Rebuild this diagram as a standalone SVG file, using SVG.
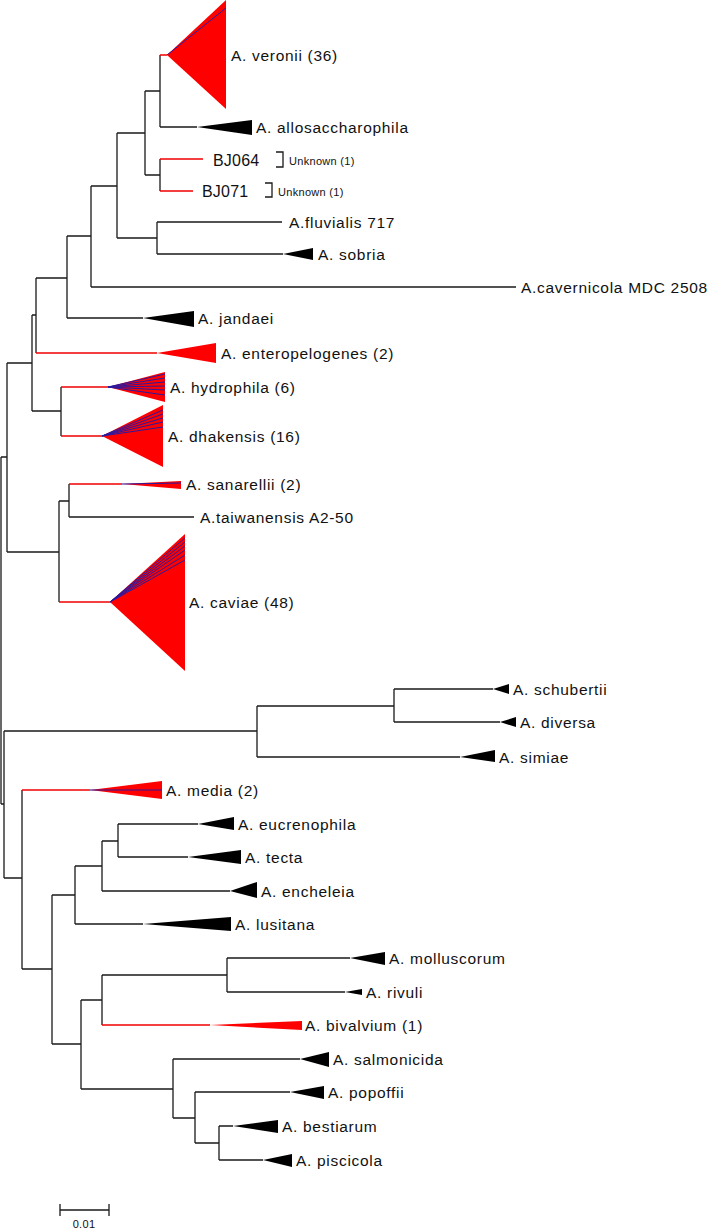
<svg xmlns="http://www.w3.org/2000/svg" width="709" height="1231" viewBox="0 0 709 1231">
<style>
.e{fill:none;stroke:#1a1a1a;stroke-width:1.3}
.r{fill:none;stroke:#f00000;stroke-width:1.3}
.b{fill:none;stroke:#2a1aa0;stroke-width:1}
.tr{fill:#ff0000;stroke:none}
.tb{fill:#000;stroke:none}
text{font-family:"Liberation Sans",Arial,sans-serif;font-size:15.5px;fill:#111;letter-spacing:0.7px}
.s{font-size:11px;letter-spacing:0.3px}
.big{font-size:16px;letter-spacing:0.2px}
</style>
<rect width="709" height="1231" fill="#fff"/>
<g id="connectors">
<path class="e" d="M1,457V804M1,457H7M7,363V552M7,363H32M32,315V411M32,315H36M36,278V353M36,278H67M67,236V318M67,236H91M91,186V287M91,186H117M117,133V238M117,133H145M145,91V175M145,91H160M160,55V127"/>
<path class="e" d="M160,127H197M145,175H160M160,159V191M117,238H157M157,222V254M157,222H282M157,254H283M91,287H516M67,318H143"/>
<path class="r" d="M160,55H167M160,159H203M160,191H193M36,353H157"/>
<path class="e" d="M32,411H61M61,387V436"/>
<path class="r" d="M61,387H108M61,436H102"/>
<path class="e" d="M7,552H59M59,501V602M59,501H69M69,484V517M69,517H194"/>
<path class="r" d="M69,484H122M59,602H110"/>
<path class="e" d="M1,804H4M4,731V878M4,731H257M257,706V757M257,706H394M394,689V722M394,689H493M394,722H500M257,757H460"/>
<path class="e" d="M4,878H22M22,790V969"/>
<path class="r" d="M22,790H90"/>
<path class="e" d="M22,969H52M52,895V1044M52,895H75M75,866V924M75,924H143M75,866H102M102,841V891M102,891H230M102,841H118M118,824V857M118,824H198M118,857H188"/>
<path class="e" d="M52,1044H81M81,1000V1089M81,1000H102M102,975V1025M102,975H227M227,958V992M227,958H350M227,992H345"/>
<path class="r" d="M102,1025H210"/>
<path class="e" d="M81,1089H173M173,1059V1118M173,1059H300M173,1118H195M195,1092V1143M195,1092H290M195,1143H219M219,1126V1160M219,1126H233M219,1160H263"/>
</g>
<g id="n-veronii">
<polygon class="tr" points="167,55 226,0 226,109"/>
<path class="b" d="M167,55L226,8"/>
<text x="231" y="61">A. veronii (36)</text>
</g>
<g id="n-allosaccharophila">
<polygon class="tb" points="197,127 252,120 252,135"/>
<text x="256" y="133">A. allosaccharophila</text>
</g>
<g id="n-bj064">
<text class="big" x="213" y="166">BJ064</text>
<path class="e" d="M276,152H283V167H276"/>
<text class="s" x="289" y="165">Unknown (1)</text>
</g>
<g id="n-bj071">
<text class="big" x="202" y="197">BJ071</text>
<path class="e" d="M265,183H272V197H265"/>
<text class="s" x="278" y="196">Unknown (1)</text>
</g>
<g id="n-fluvialis">
<text x="289" y="228">A.fluvialis 717</text>
</g>
<g id="n-sobria">
<polygon class="tb" points="283,254 313,248 313,260"/>
<text x="318" y="260">A. sobria</text>
</g>
<g id="n-cavernicola">
<text x="521" y="293">A.cavernicola MDC 2508</text>
</g>
<g id="n-jandaei">
<polygon class="tb" points="143,318 194,311 194,327"/>
<text x="198" y="324">A. jandaei</text>
</g>
<g id="n-enteropelogenes">
<polygon class="tr" points="157,353 216,343 216,363"/>
<text x="221" y="359">A. enteropelogenes (2)</text>
</g>
<g id="n-hydrophila">
<polygon class="tr" points="108,387 165,372 165,402"/>
<path class="b" d="M108,387L165,374M108,387L165,378M108,387L165,382M108,387L165,386M108,387L165,390M108,387L165,395"/>
<text x="170" y="393">A. hydrophila (6)</text>
</g>
<g id="n-dhakensis">
<polygon class="tr" points="102,436 163,405 163,467"/>
<path class="b" d="M102,436L163,410M102,436L163,414M102,436L163,418M102,436L163,422M102,436L163,427"/>
<text x="168" y="442">A. dhakensis (16)</text>
</g>
<g id="n-sanarellii">
<polygon class="tr" points="122,484 181,481 181,489"/>
<path class="b" d="M122,484L181,483"/>
<text x="186" y="490">A. sanarellii (2)</text>
</g>
<g id="n-taiwanensis">
<text x="200" y="523">A.taiwanensis A2-50</text>
</g>
<g id="n-caviae">
<polygon class="tr" points="110,602 185,534 185,671"/>
<path class="b" d="M110,602L185,538M110,602L185,542M110,602L185,546M110,602L185,550M110,602L185,555M110,602L185,560"/>
<text x="189" y="608">A. caviae (48)</text>
</g>
<g id="n-schubertii">
<polygon class="tb" points="493,689 509,684 509,694"/>
<text x="513" y="695">A. schubertii</text>
</g>
<g id="n-diversa">
<polygon class="tb" points="500,722 516,717 516,727"/>
<text x="520" y="728">A. diversa</text>
</g>
<g id="n-simiae">
<polygon class="tb" points="460,757 495,750 495,762"/>
<text x="499" y="763">A. simiae</text>
</g>
<g id="n-media">
<polygon class="tr" points="90,790 162,781 162,799"/>
<path class="b" d="M90,790H162"/>
<text x="166" y="796">A. media (2)</text>
</g>
<g id="n-eucrenophila">
<polygon class="tb" points="198,824 234,817 234,830"/>
<text x="238" y="830">A. eucrenophila</text>
</g>
<g id="n-tecta">
<polygon class="tb" points="188,857 241,850 241,864"/>
<text x="245" y="863">A. tecta</text>
</g>
<g id="n-encheleia">
<polygon class="tb" points="230,891 257,882 257,898"/>
<text x="261" y="897">A. encheleia</text>
</g>
<g id="n-lusitana">
<polygon class="tb" points="143,924 231,917 231,931"/>
<text x="235" y="930">A. lusitana</text>
</g>
<g id="n-molluscorum">
<polygon class="tb" points="350,958 385,952 385,965"/>
<text x="389" y="964">A. molluscorum</text>
</g>
<g id="n-rivuli">
<polygon class="tb" points="345,992 362,989 362,995"/>
<text x="366" y="998">A. rivuli</text>
</g>
<g id="n-bivalvium">
<polygon class="tr" points="210,1025 302,1021 302,1030"/>
<text x="305" y="1031">A. bivalvium (1)</text>
</g>
<g id="n-salmonicida">
<polygon class="tb" points="300,1059 329,1052 329,1067"/>
<text x="333" y="1065">A. salmonicida</text>
</g>
<g id="n-popoffii">
<polygon class="tb" points="290,1092 324,1086 324,1099"/>
<text x="328" y="1098">A. popoffii</text>
</g>
<g id="n-bestiarum">
<polygon class="tb" points="233,1126 278,1120 278,1133"/>
<text x="282" y="1132">A. bestiarum</text>
</g>
<g id="n-piscicola">
<polygon class="tb" points="263,1160 292,1154 292,1167"/>
<text x="296" y="1166">A. piscicola</text>
</g>
<g id="scale-bar">
<path class="e" d="M60,1210H109M60,1204V1216M109,1204V1216"/>
<text class="s" x="84" y="1228" text-anchor="middle">0.01</text>
</g>
</svg>
